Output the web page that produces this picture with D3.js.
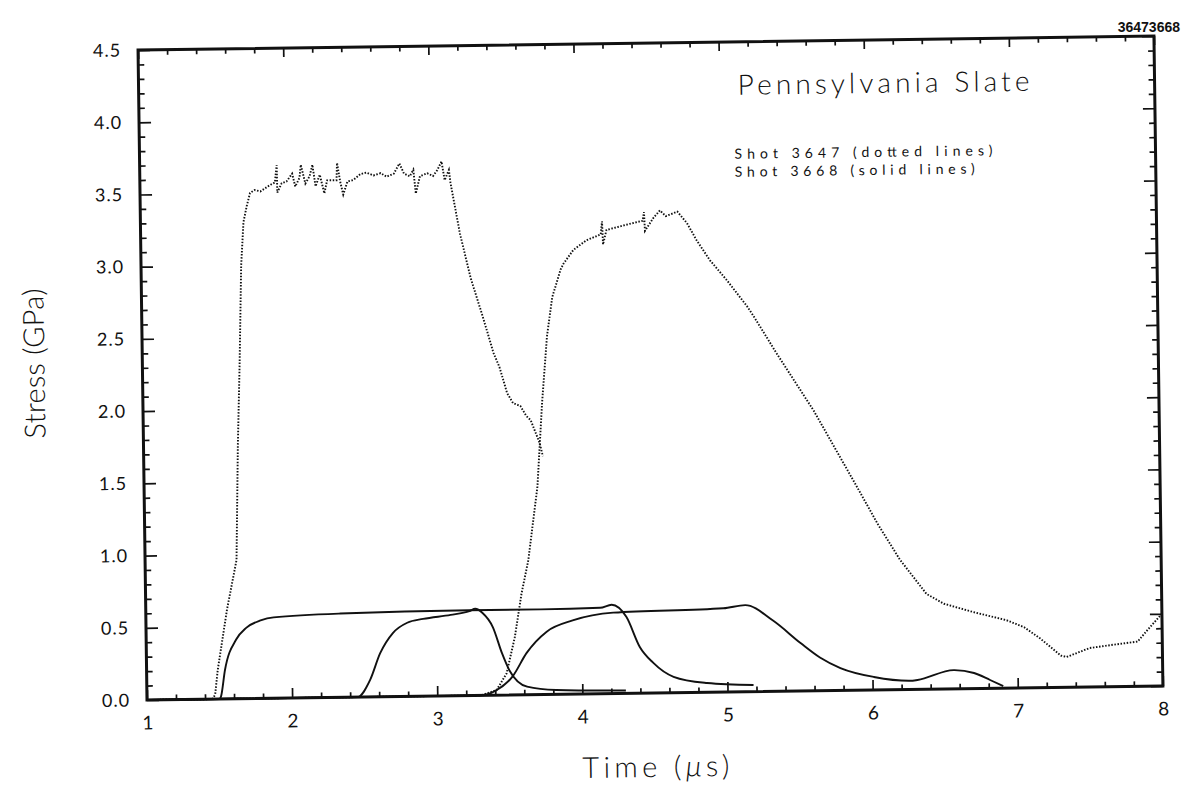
<!DOCTYPE html>
<html>
<head>
<meta charset="utf-8">
<script src="https://cdn.jsdelivr.net/npm/d3@7/dist/d3.min.js"></script>
<style>
    body { margin: 0; background: #fff; }
    svg text { font-family: Lato, "Open Sans", sans-serif; font-weight: 300; fill: #111; }
</style>
</head>
<body>
<div id="chart"></div>
<script>
// Shot 3647 (dotted lines), [time in us, stress in GPa]
var shot3647Gauge1 = [
    [1.00, 0.00], [1.45, 0.00], [1.47, 0.03], [1.49, 0.20], [1.56, 0.62], [1.63, 0.96],
    [1.65, 1.75], [1.67, 2.32], [1.69, 3.00], [1.71, 3.30], [1.734, 3.41], [1.758, 3.50],
    [1.79, 3.52], [1.83, 3.51], [1.86, 3.53], [1.90, 3.555], [1.93, 3.57], [1.944, 3.69],
    [1.946, 3.50], [1.977, 3.565], [2.01, 3.576], [2.05, 3.63], [2.07, 3.54], [2.10, 3.60],
    [2.11, 3.69], [2.14, 3.56], [2.17, 3.61], [2.19, 3.69], [2.21, 3.54], [2.24, 3.62],
    [2.27, 3.49], [2.29, 3.58], [2.355, 3.58], [2.36, 3.70], [2.38, 3.57], [2.40, 3.48],
    [2.43, 3.57], [2.47, 3.58], [2.52, 3.62], [2.56, 3.63], [2.61, 3.61], [2.66, 3.625],
    [2.70, 3.60], [2.75, 3.62], [2.79, 3.69], [2.82, 3.62], [2.86, 3.60], [2.885, 3.645],
    [2.90, 3.48], [2.93, 3.60], [2.98, 3.62], [3.02, 3.60], [3.05, 3.64], [3.08, 3.70],
    [3.10, 3.57], [3.13, 3.64], [3.14, 3.55], [3.20, 3.20], [3.27, 2.89], [3.35, 2.62],
    [3.42, 2.37], [3.46, 2.27], [3.51, 2.09], [3.55, 2.02], [3.60, 2.00], [3.64, 1.93],
    [3.67, 1.90], [3.73, 1.74], [3.75, 1.65]
];
var shot3647Gauge2 = [
    [1.00, 0.00], [3.30, 0.00], [3.41, 0.036], [3.48, 0.15], [3.54, 0.40], [3.59, 0.70],
    [3.64, 0.93], [3.71, 1.44], [3.75, 2.02], [3.79, 2.48], [3.83, 2.75], [3.89, 2.94],
    [3.91, 2.98], [3.98, 3.075], [4.07, 3.14], [4.17, 3.18], [4.18, 3.27], [4.185, 3.11],
    [4.21, 3.21], [4.37, 3.25], [4.46, 3.27], [4.47, 3.33], [4.475, 3.20], [4.535, 3.29],
    [4.58, 3.34], [4.62, 3.30], [4.70, 3.33], [4.765, 3.25], [4.83, 3.13], [4.92, 2.99],
    [5.035, 2.85], [5.17, 2.67], [5.215, 2.60], [5.37, 2.34], [5.62, 1.94], [5.91, 1.41],
    [6.05, 1.15], [6.20, 0.90], [6.38, 0.66], [6.50, 0.59], [6.70, 0.53], [6.93, 0.47],
    [7.05, 0.42], [7.16, 0.34], [7.30, 0.22], [7.34, 0.21], [7.50, 0.27], [7.66, 0.29],
    [7.83, 0.31], [7.90, 0.39], [8.00, 0.50]
];

// Shot 3668 (solid lines)
var shot3668Gauge1 = [
    [1.00, 0.00], [1.50, 0.00], [1.51, 0.016], [1.54, 0.20], [1.62, 0.41], [1.69, 0.49],
    [1.79, 0.54], [1.88, 0.56], [2.34, 0.58], [3.23, 0.59], [3.72, 0.59], [4.13, 0.595],
    [4.21, 0.615], [4.31, 0.53], [4.40, 0.32], [4.49, 0.21], [4.63, 0.11], [4.86, 0.064],
    [5.18, 0.046]
];
var shot3668Gauge2 = [
    [1.00, 0.00], [2.45, 0.00], [2.54, 0.12], [2.61, 0.30], [2.70, 0.44], [2.80, 0.51],
    [2.91, 0.535], [3.10, 0.56], [3.23, 0.585], [3.27, 0.60], [3.32, 0.57], [3.39, 0.47],
    [3.45, 0.29], [3.50, 0.17], [3.62, 0.056], [3.82, 0.03], [4.30, 0.02]
];
var shot3668Gauge3 = [
    [1.00, 0.00], [3.30, 0.00], [3.40, 0.03], [3.52, 0.127], [3.62, 0.29], [3.76, 0.435],
    [3.94, 0.51], [4.22, 0.56], [4.98, 0.58], [5.13, 0.60], [5.32, 0.49], [5.51, 0.33],
    [5.64, 0.23], [5.78, 0.155], [6.01, 0.09], [6.26, 0.06], [6.31, 0.065], [6.56, 0.13],
    [6.70, 0.108], [6.81, 0.058], [6.90, 0.015]
];

// Tick labels
var xTicks = [1, 2, 3, 4, 5, 6, 7, 8];
var yTicks = [0.0, 0.5, 1.0, 1.5, 2.0, 2.5, 3.0, 3.5, 4.0, 4.5];

var titleText = 'Pennsylvania Slate';
var legendTexts = ['Shot 3647 (dotted lines)', 'Shot 3668 (solid lines)'];
var plotId = '36473668';

var width = 1016, height = 650;
var margin = {top: 50, left: 147};

var svg = d3.select('#chart').append('svg')
    .attr('width', 1183)
    .attr('height', 785);

// the scanned page is a bit tilted, rotate around the lower-left corner of the frame
var page = svg.append('g').attr('transform', 'rotate(-0.79,147,700)');
var g = page.append('g').attr('transform', `translate(${margin.left},${margin.top})`);

var xScale = d3.scaleLinear().domain([1, 8]).range([0, width]);
var yScale = d3.scaleLinear().domain([0, 4.5]).range([height, 0]);

// minor ticks: every 0.2 us and every 0.1 GPa
var xMinor = d3.range(1, 8.001, 0.2).filter(v => Math.abs(v - Math.round(v)) > 0.01);
var yMinor = d3.range(0, 4.501, 0.1).filter(v => Math.abs(v * 2 - Math.round(v * 2)) > 0.01);

function addAxis(axis, tx, ty) {
    var a = g.append('g').attr('transform', `translate(${tx},${ty})`).call(axis);
    a.select('.domain').remove();
    a.selectAll('line').attr('stroke', '#111').attr('stroke-width', 1.7);
    return a;
}

// bottom
var xAxisG = addAxis(d3.axisBottom(xScale).tickValues(xTicks).tickSize(-10).tickPadding(16)
    .tickFormat(d3.format('d')), 0, height);
addAxis(d3.axisBottom(xScale).tickValues(xMinor).tickSize(-5).tickFormat(''), 0, height);
// top
addAxis(d3.axisTop(xScale).tickValues(xTicks).tickSize(-9).tickFormat(''), 0, 0);
addAxis(d3.axisTop(xScale).tickValues(xMinor).tickSize(-5).tickFormat(''), 0, 0);
// left
var yAxisG = addAxis(d3.axisLeft(yScale).tickValues(yTicks).tickSize(-12).tickPadding(17)
    .tickFormat(d3.format('.1f')), 0, 0);
addAxis(d3.axisLeft(yScale).tickValues(yMinor).tickSize(-6).tickFormat(''), 0, 0);
// right
addAxis(d3.axisRight(yScale).tickValues(yTicks).tickSize(-12).tickFormat(''), width, 0);
addAxis(d3.axisRight(yScale).tickValues(yMinor).tickSize(-6).tickFormat(''), width, 0);

xAxisG.selectAll('text').style('font-size', '19px').style('font-weight', 400).attr('fill', '#111');
yAxisG.selectAll('text').style('font-size', '18px').style('font-weight', 400)
    .style('letter-spacing', '1px').attr('fill', '#111');

// frame
g.append('rect')
    .attr('width', width)
    .attr('height', height)
    .attr('fill', 'none')
    .attr('stroke', '#111')
    .attr('stroke-width', 3);

var lineGen = d3.line()
    .x(d => xScale(d[0]))
    .y(d => yScale(d[1]));

var smoothGen = d3.line()
    .curve(d3.curveMonotoneX)
    .x(d => xScale(d[0]))
    .y(d => yScale(d[1]));

// dotted traces
[shot3647Gauge1, shot3647Gauge2].forEach(function(d) {
    g.append('path')
        .attr('d', lineGen(d))
        .attr('fill', 'none')
        .attr('stroke', '#111')
        .attr('stroke-width', 1.9)
        .attr('stroke-dasharray', '1.5,1.6');
});

// solid traces
[shot3668Gauge1, shot3668Gauge2, shot3668Gauge3].forEach(function(d) {
    g.append('path')
        .attr('d', smoothGen(d))
        .attr('fill', 'none')
        .attr('stroke', '#111')
        .attr('stroke-width', 1.9);
});

// texts
g.append('text')
    .attr('x', 599).attr('y', 53)
    .attr('textLength', 292).attr('lengthAdjust', 'spacing')
    .style('font-size', '28px')
    .text(titleText);

legendTexts.forEach(function(t, i) {
    g.append('text')
        .attr('x', 595).attr('y', 117 + i * 18)
        .attr('textLength', i === 0 ? 258 : 240).attr('lengthAdjust', 'spacing')
        .style('font-size', '14px')
        .style('font-weight', 400)
        .text(t);
});

var xLabel = g.append('text')
    .attr('x', 508).attr('y', 734)
    .attr('text-anchor', 'middle')
    .attr('textLength', 147).attr('lengthAdjust', 'spacing')
    .style('font-size', '29px');
xLabel.append('tspan').text('Time (');
xLabel.append('tspan').style('font-style', 'italic').text('\u03bc');
xLabel.append('tspan').text('s)');

g.append('text')
    .attr('transform', 'translate(-98,312) rotate(-90)')
    .attr('text-anchor', 'middle')
    .attr('textLength', 150).attr('lengthAdjust', 'spacing')
    .style('font-size', '29px')
    .text('Stress (GPa)');

svg.append('text')
    .attr('x', 1180).attr('y', 32)
    .attr('text-anchor', 'end')
    .style('font-family', '"Liberation Sans", Arial, sans-serif')
    .style('font-weight', 'bold')
    .style('font-size', '14px')
    .text(plotId);
</script>
</body>
</html>
